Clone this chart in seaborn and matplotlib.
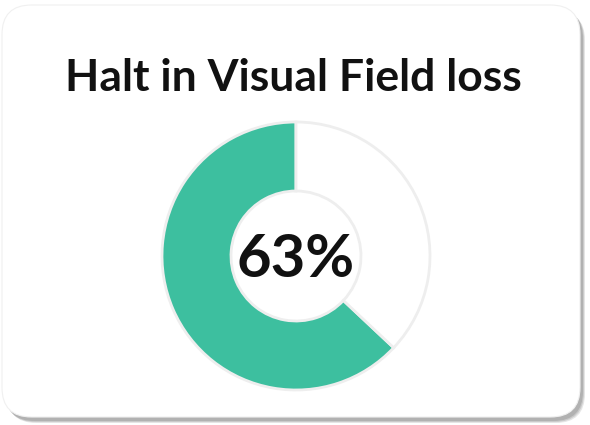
import matplotlib
matplotlib.use("Agg")
import matplotlib.pyplot as plt
from matplotlib.patches import FancyBboxPatch
import seaborn as sns

title = "Halt in Visual Field loss"
labels = ["Halt", "Remaining"]
values = [63, 37]
center_label = "63%"
colors = ["#3dbf9f", "#ffffff"]

sns.set_theme(style="white")
plt.rcParams['font.family'] = ['Lato', 'DejaVu Sans']

W, H = 590, 425
fig = plt.figure(figsize=(W / 100, H / 100), dpi=100)
fig.patch.set_facecolor("white")

# card with soft shadow
for i, a in enumerate([0.25, 0.35, 0.5]):
    off = 3 - i
    shadow = FancyBboxPatch(((4 + off) / W, (5 - off) / H), (578 / W), (412 / H),
                            boxstyle="round,pad=0,rounding_size=0.05",
                            transform=fig.transFigure, facecolor="#999999",
                            edgecolor="none", mutation_aspect=W / H, alpha=a,
                            zorder=-3 + i * 0.1)
    fig.patches.append(shadow)
card = FancyBboxPatch((2 / W, 8 / H), (578 / W), (412 / H),
                      boxstyle="round,pad=0,rounding_size=0.05",
                      transform=fig.transFigure, facecolor="white",
                      edgecolor="#f0f0f0", linewidth=0.8, mutation_aspect=W / H,
                      zorder=-1)
fig.patches.append(card)

cx, cy = 296, 256
half = 140
ax = fig.add_axes([(cx - half) / W, (H - cy - half) / H, 2 * half / W, 2 * half / H])
ax.set_zorder(5)
ax.set_facecolor("none")
ax.pie(values, colors=colors, startangle=90, counterclock=True,
       radius=134 / half,
       wedgeprops=dict(width=69 / half, edgecolor="#eeeeee", linewidth=2.0))
ax.set_xlim(-1, 1)
ax.set_ylim(-1, 1)
ax.set_aspect("equal")
ax.axis("off")
ax.text(0, -0.03, center_label, ha="center", va="center", fontsize=43,
        fontweight="bold", color="#111111")

fig.text(293 / W, 1 - 78 / H, title, ha="center", va="center",
         fontsize=32, fontweight="bold", color="#111111", zorder=6)

fig.savefig("out.png", dpi=100)
